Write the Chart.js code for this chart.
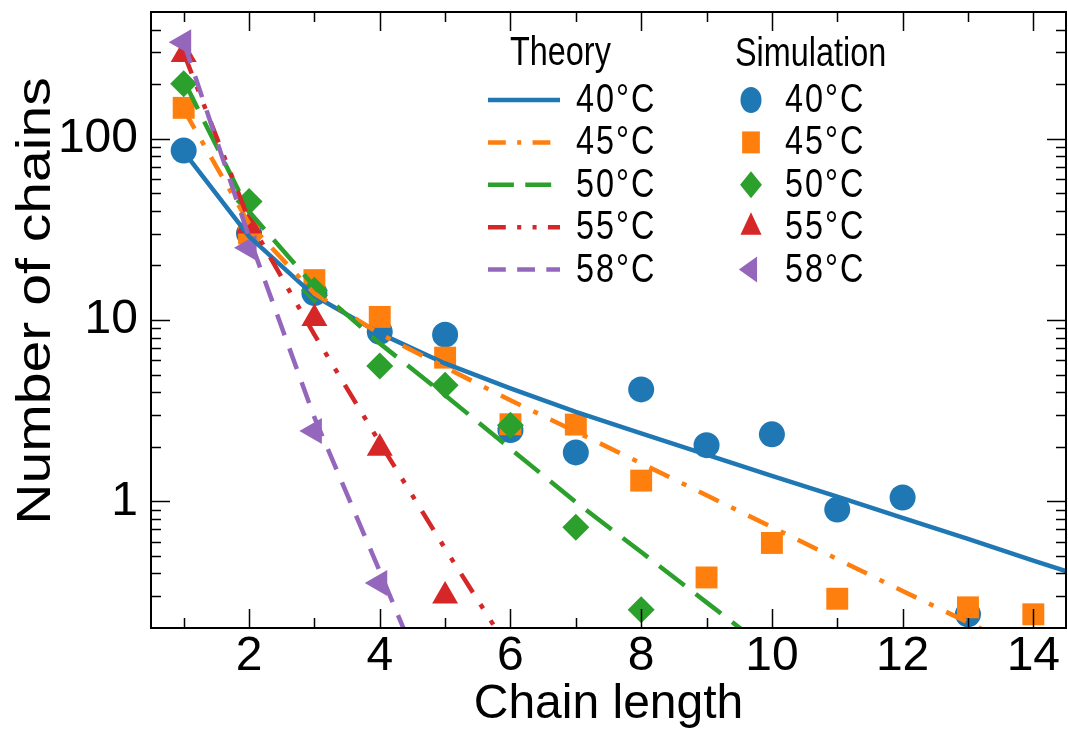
<!DOCTYPE html>
<html>
<head>
<meta charset="utf-8">
<script src="https://cdn.jsdelivr.net/npm/chart.js@4.4.1/dist/chart.umd.min.js"></script>
<style>
  html, body { margin: 0; padding: 0; background: #fff; overflow: hidden; }
  #wrap { width: 1068px; height: 732px; position: relative; }
  #chart { display: block; }
</style>
</head>
<body>
<div id="wrap"><canvas id="chart"></canvas></div>
<script>
// labels / colours
const temps = ['40°C', '45°C', '50°C', '55°C', '58°C'];
const colors = ['#1f77b4', '#ff7f0e', '#2ca02c', '#d62728', '#9467bd'];
const yTitle = 'Number of chains';
const xTitle = 'Chain length';

// theory curves (evaluated at integer chain lengths)
const theoryX = [1, 2, 3, 4, 5, 6, 7, 8, 9, 10, 11, 12, 13, 14, 15];
const theory40 = [85, 28.9, 13.6, 8.44, 5.76, 4.2, 3.11, 2.37, 1.81, 1.38, 1.06, 0.81, 0.62, 0.47, 0.36];
const theory45 = [145, 34, 14, 8.4, 5.48, 3.61, 2.42, 1.62, 1.08, 0.72, 0.48, 0.32, 0.215, 0.143, 0.096];
const theory50 = [210, 39.7, 15.3, 7.43, 3.85, 1.95, 0.99, 0.525, 0.277, 0.146];
const theory55 = [297, 35.5, 8.3, 2.11, 0.548, 0.148];
const theory58 = [341, 28.7, 2.9, 0.411, 0.056];

// simulation points
const simX = [1, 2, 3, 4, 5, 6, 7, 8, 9, 10, 11, 12, 13, 14];
const sim40 = [86, 30, 14.1, 8.6, 8.3, 2.47, 1.86, 4.14, 2.04, 2.34, 0.90, 1.05, 0.238];
const sim45 = [148, 30, 16.6, 10.4, 6.2, 2.66, 2.65, 1.30, 0.38, 0.589, 0.29, null, 0.26, 0.238];
const sim50 = [201, 45, 14.6, 5.57, 4.37, 2.63, 0.72, 0.252];
const sim55 = [291, 33, 10.2, 1.96, 0.30];
const sim58 = [341, 25, 2.44, 0.354];

// axis ticks
const xMajor = [2, 4, 6, 8, 10, 12, 14];
const xMinor = [1, 3, 5, 7, 9, 11, 13];
const yMajor = [1, 10, 100];

const theorySets = [theory40, theory45, theory50, theory55, theory58];
const simSets = [sim40, sim45, sim50, sim55, sim58];
const dashes = [[], [22, 14, 5, 14], [32, 14], [22, 14, 5, 14, 5, 14], [22, 14]];
const markers = [
  { style: 'circle', r: 13, rot: 0 },
  { style: 'rect', r: 15.5, rot: 0 },
  { style: 'rectRot', r: 13.5, rot: 0 },
  { style: 'triangle', r: 15, rot: 0 },
  { style: 'triangle', r: 15, rot: -90 },
];
const FONT = '"Liberation Sans", Arial, Helvetica, sans-serif';

function pts(xs, ys) {
  const out = [];
  ys.forEach((v, i) => { if (v !== null) out.push({ x: xs[i], y: v }); });
  return out;
}

const datasets = [];
theorySets.forEach((ys, i) => {
  datasets.push({
    label: 'Theory ' + temps[i],
    data: pts(theoryX, ys),
    borderColor: colors[i],
    borderWidth: 4.5,
    borderDash: dashes[i],
    borderCapStyle: 'butt',
    borderJoinStyle: 'round',
    pointRadius: 0,
    tension: 0,
    fill: false,
    order: 4 - i,
  });
});
simSets.forEach((ys, i) => {
  datasets.push({
    label: 'Simulation ' + temps[i],
    data: pts(simX, ys),
    showLine: false,
    pointStyle: markers[i].style,
    pointRadius: markers[i].r,
    pointRotation: markers[i].rot,
    pointBackgroundColor: colors[i],
    pointBorderWidth: 0,
    borderWidth: 0,
    order: 9 - i,
  });
});

// inward ticks on all four sides + frame
const frameTicks = {
  id: 'frameTicks',
  afterDatasetsDraw(chart) {
    const { ctx, chartArea: a, scales: { x, y } } = chart;
    const yMinor = [];
    [0.1, 1, 10, 100].forEach(d => {
      for (let m = 2; m <= 9; m++) {
        const v = m * d;
        if (v > y.min && v < y.max) yMinor.push(v);
      }
    });
    ctx.save();
    ctx.strokeStyle = '#000';
    ctx.lineWidth = 1.5;
    ctx.beginPath();
    const xt = (vals, len) => vals.forEach(v => {
      const p = Math.round(x.getPixelForValue(v)) + 0.5;
      ctx.moveTo(p, a.bottom); ctx.lineTo(p, a.bottom - len);
      ctx.moveTo(p, a.top); ctx.lineTo(p, a.top + len);
    });
    const yt = (vals, len) => vals.forEach(v => {
      const p = Math.round(y.getPixelForValue(v)) + 0.5;
      ctx.moveTo(a.left, p); ctx.lineTo(a.left + len, p);
      ctx.moveTo(a.right, p); ctx.lineTo(a.right - len, p);
    });
    xt(xMajor, 19); xt(xMinor, 10);
    yt(yMajor, 19); yt(yMinor, 10);
    ctx.stroke();
    ctx.lineWidth = 2;
    ctx.strokeRect(a.left, a.top, a.right - a.left, a.bottom - a.top);

    // y-axis title, a bit stretched along its length like the original
    ctx.fillStyle = '#000';
    ctx.font = '48px ' + FONT;
    ctx.textAlign = 'center';
    ctx.textBaseline = 'alphabetic';
    ctx.translate(50, 301);
    ctx.rotate(-Math.PI / 2);
    ctx.scale(1.19, 1);
    ctx.fillText(yTitle, 0, 0);
    ctx.restore();
  }
};

// two-column legend (theory lines / simulation markers), slightly condensed
function drawMarker(ctx, m, cx, cy) {
  if (Chart.helpers && Chart.helpers.drawPoint) {
    Chart.helpers.drawPoint(ctx, { pointStyle: m.style, radius: m.r, rotation: m.rot, borderWidth: 0 }, cx, cy);
  } else {
    ctx.beginPath(); ctx.arc(cx, cy, m.r, 0, Math.PI * 2); ctx.fill();
  }
}
const legendPlugin = {
  id: 'twoColLegend',
  afterDraw(chart) {
    const ctx = chart.ctx;
    const SQ = 0.81;
    ctx.save();
    ctx.scale(SQ, 1);
    ctx.fillStyle = '#000';
    ctx.font = '40px ' + FONT;
    ctx.textBaseline = 'alphabetic';
    ctx.textAlign = 'left';
    ctx.fillText('Theory', 510 / SQ, 65);
    ctx.fillText('Simulation', 735 / SQ, 66);
    ctx.textBaseline = 'middle';
    temps.forEach((t, i) => {
      const yy = 100 + i * 42.4;
      ctx.strokeStyle = colors[i];
      ctx.lineWidth = 4.5;
      ctx.lineCap = 'butt';
      ctx.setLineDash(dashes[i]);
      ctx.beginPath();
      ctx.moveTo(488 / SQ, yy);
      ctx.lineTo(560 / SQ, yy);
      ctx.stroke();
      ctx.setLineDash([]);
      ctx.fillStyle = '#000';
      ctx.letterSpacing = '2.5px';
      ctx.fillText(t, 576 / SQ, yy + 1);
      ctx.fillText(t, 785 / SQ, yy + 1);
      ctx.letterSpacing = '0px';
      ctx.fillStyle = colors[i];
      drawMarker(ctx, markers[i], 751 / SQ, yy);
    });
    ctx.restore();
  }
};

new Chart(document.getElementById('chart'), {
  type: 'line',
  data: { datasets },
  plugins: [frameTicks, legendPlugin],
  options: {
    responsive: true,
    maintainAspectRatio: false,
    animation: false,
    layout: { autoPadding: false, padding: { left: 0, right: 2, top: 12, bottom: 0 } },
    plugins: { legend: { display: false }, tooltip: { enabled: false } },
    scales: {
      x: {
        type: 'linear',
        min: 0.5,
        max: 14.5,
        grid: { display: false, drawTicks: false },
        border: { display: false },
        afterBuildTicks: s => { s.ticks = xMajor.map(v => ({ value: v })); },
        afterFit: s => { s.height = 104; s.paddingLeft = 0; s.paddingRight = 0; },
        ticks: {
          padding: 0,
          color: '#000',
          font: { family: FONT, size: 48 },
          callback: v => String(v),
          maxRotation: 0,
        },
        title: {
          display: true,
          text: xTitle,
          color: '#000',
          font: { family: FONT, size: 48, lineHeight: 1 },
          padding: { top: 0, bottom: 3 },
        },
      },
      y: {
        type: 'logarithmic',
        min: 0.2,
        max: 500,
        grid: { display: false, drawTicks: false },
        border: { display: false },
        afterBuildTicks: s => { s.ticks = yMajor.map(v => ({ value: v })); },
        afterFit: s => { s.width = 151; s.paddingTop = 0; s.paddingBottom = 0; },
        ticks: {
          padding: 13,
          color: '#000',
          font: { family: FONT, size: 48 },
          callback: v => String(v),
        },
        title: { display: false },
      },
    },
  },
});
</script>
</body>
</html>
